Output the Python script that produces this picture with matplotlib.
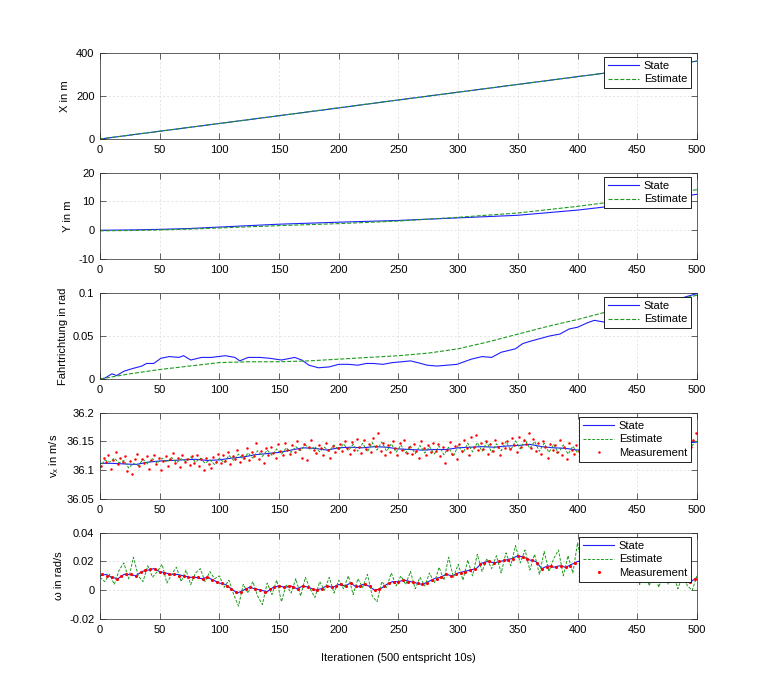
import numpy as np
import matplotlib
matplotlib.use("Agg")
from matplotlib import pyplot as plt
from matplotlib.ticker import FuncFormatter

plt.rcParams['font.family'] = ['Liberation Sans', 'DejaVu Sans']
plt.rcParams['font.size'] = 8
plt.rcParams['axes.unicode_minus'] = False

# --- X position (m) ---
x_iter = [0, 50, 100, 150, 200, 250, 300, 350, 400, 450, 500]
x_state = [0, 36, 72, 108, 144, 181, 217, 253, 289, 325, 361]
x_est = [0, 36, 72, 108, 145, 181, 217, 253, 289, 325, 361]

# --- Y position (m) ---
y_iter = [0, 25, 50, 75, 100, 150, 200, 250, 300, 350, 400, 450, 500]
y_state = [0, 0.1, 0.3, 0.6, 1.1, 2.1, 2.8, 3.4, 4.3, 5.2, 7.0, 9.4, 12.5]
y_est = [-0.2, -0.1, 0.1, 0.4, 0.8, 1.6, 2.3, 3.2, 4.5, 6.0, 8.3, 11.0, 14.1]

# --- heading (rad) ---
head_iter = [0, 4, 10, 14, 20, 27, 35, 39, 45, 51, 58, 66, 70, 76, 85, 93, 105, 113,
             117, 124, 134, 142, 152, 163, 169, 175, 183, 192, 200, 208, 216, 223,
             229, 237, 245, 253, 260, 266, 274, 282, 291, 299, 305, 311, 320, 328,
             336, 342, 348, 354, 361, 369, 377, 385, 393, 400, 408, 414, 422, 430,
             440, 450, 460, 470, 480, 490, 500]
head_state = [0, 0.001, 0.006, 0.004, 0.009, 0.012, 0.015, 0.018, 0.018, 0.024,
              0.026, 0.025, 0.027, 0.022, 0.025, 0.025, 0.027, 0.025, 0.021, 0.025,
              0.025, 0.024, 0.022, 0.025, 0.022, 0.016, 0.013, 0.014, 0.017, 0.017,
              0.016, 0.018, 0.018, 0.017, 0.019, 0.020, 0.021, 0.019, 0.016, 0.015,
              0.016, 0.017, 0.020, 0.023, 0.026, 0.025, 0.031, 0.033, 0.035, 0.041,
              0.044, 0.047, 0.050, 0.052, 0.058, 0.060, 0.065, 0.068, 0.066, 0.069,
              0.073, 0.077, 0.082, 0.086, 0.090, 0.095, 0.099]
head_est_iter = [0, 25, 50, 75, 100, 125, 150, 175, 200, 225, 250, 275, 300, 325,
                 350, 375, 400, 425, 450, 475, 500]
head_est = [0, 0.006, 0.011, 0.015, 0.019, 0.020, 0.020, 0.021, 0.023, 0.025,
            0.027, 0.030, 0.035, 0.043, 0.052, 0.061, 0.069, 0.078, 0.084, 0.090, 0.097]

# --- v_x (m/s), state every 10 iterations ---
vx_state = [36.112, 36.112, 36.111, 36.110, 36.114, 36.116, 36.117, 36.118, 36.119, 36.117,
            36.118, 36.121, 36.123, 36.127, 36.129, 36.131, 36.135, 36.139, 36.138, 36.135,
            36.139, 36.140, 36.139, 36.141, 36.140, 36.137, 36.136, 36.135, 36.136, 36.136,
            36.139, 36.140, 36.141, 36.140, 36.142, 36.143, 36.145, 36.141, 36.139, 36.138,
            36.135, 36.137, 36.139, 36.140, 36.142, 36.143, 36.144, 36.145, 36.146, 36.147,
            36.149]
# estimate every 4 iterations
vx_est = [36.104, 36.118, 36.114, 36.121, 36.113, 36.117, 36.104, 36.112, 36.108, 36.119,
          36.111, 36.120, 36.112, 36.121, 36.114, 36.122, 36.113, 36.120, 36.115, 36.123,
          36.114, 36.121, 36.112, 36.118, 36.110, 36.121, 36.113, 36.126, 36.117, 36.128,
          36.119, 36.130, 36.121, 36.134, 36.124, 36.135, 36.126, 36.137, 36.128, 36.139,
          36.131, 36.141, 36.134, 36.144, 36.136, 36.141, 36.132, 36.140, 36.133, 36.144,
          36.135, 36.146, 36.134, 36.145, 36.133, 36.147, 36.132, 36.148, 36.135, 36.149,
          36.133, 36.146, 36.131, 36.144, 36.130, 36.142, 36.129, 36.143, 36.130, 36.141,
          36.128, 36.142, 36.127, 36.140, 36.124, 36.143, 36.130, 36.147, 36.132, 36.148,
          36.133, 36.149, 36.131, 36.146, 36.134, 36.150, 36.135, 36.151, 36.137, 36.153,
          36.138, 36.150, 36.133, 36.147, 36.131, 36.145, 36.130, 36.144, 36.128, 36.142,
          36.130, 36.144, 36.131, 36.146, 36.133, 36.147, 36.134, 36.148, 36.135, 36.149,
          36.136, 36.150, 36.137, 36.151, 36.138, 36.152, 36.139, 36.151, 36.140, 36.152,
          36.141, 36.153, 36.142, 36.154, 36.143, 36.151]
# measurement every 2 iterations (1, 3, 5, ...)
vx_meas = [36.108, 36.121, 36.115, 36.126, 36.103, 36.118, 36.131, 36.110, 36.122, 36.114,
           36.125, 36.099, 36.116, 36.093, 36.120, 36.128, 36.107, 36.119, 36.112, 36.124,
           36.102, 36.118, 36.127, 36.110, 36.121, 36.100, 36.116, 36.125, 36.108, 36.119,
           36.130, 36.112, 36.122, 36.106, 36.127, 36.115, 36.120, 36.109, 36.124, 36.113,
           36.126, 36.108, 36.119, 36.101, 36.121, 36.111, 36.104, 36.123, 36.115, 36.128,
           36.112, 36.126, 36.116, 36.131, 36.110, 36.124, 36.119, 36.135, 36.114, 36.127,
           36.121, 36.138, 36.117, 36.131, 36.125, 36.147, 36.120, 36.134, 36.112, 36.139,
           36.126, 36.141, 36.130, 36.122, 36.145, 36.134, 36.127, 36.148, 36.136, 36.129,
           36.143, 36.132, 36.150, 36.137, 36.121, 36.146, 36.118, 36.140, 36.152, 36.135,
           36.130, 36.144, 36.138, 36.126, 36.148, 36.135, 36.122, 36.142, 36.131, 36.139,
           36.146, 36.133, 36.151, 36.138, 36.128, 36.149, 36.136, 36.155, 36.141, 36.130,
           36.152, 36.137, 36.145, 36.131, 36.156, 36.142, 36.165, 36.134, 36.148, 36.127,
           36.143, 36.132, 36.151, 36.139, 36.126, 36.147, 36.135, 36.153, 36.130, 36.141,
           36.129, 36.146, 36.134, 36.122, 36.150, 36.138, 36.127, 36.143, 36.131, 36.148,
           36.133, 36.145, 36.124, 36.140, 36.112, 36.136, 36.149, 36.128, 36.142, 36.119,
           36.146, 36.133, 36.152, 36.138, 36.127, 36.157, 36.141, 36.162, 36.135, 36.148,
           36.137, 36.150, 36.129, 36.145, 36.134, 36.153, 36.140, 36.126, 36.147, 36.138,
           36.151, 36.137, 36.156, 36.144, 36.132, 36.158, 36.141, 36.153, 36.146, 36.165,
           36.139, 36.155, 36.134, 36.148, 36.128, 36.151, 36.140, 36.121, 36.146, 36.136,
           36.144, 36.131, 36.152, 36.126, 36.141, 36.120, 36.147, 36.135, 36.129, 36.143,
           36.133, 36.146, 36.125, 36.140, 36.131, 36.149, 36.138, 36.127, 36.144, 36.135,
           36.148, 36.136, 36.152, 36.130, 36.145, 36.139, 36.155, 36.133, 36.147, 36.141,
           36.137, 36.150, 36.143, 36.156, 36.134, 36.148, 36.140, 36.153, 36.138, 36.146,
           36.151, 36.139, 36.157, 36.144, 36.136, 36.153, 36.142, 36.159, 36.147, 36.140,
           36.155, 36.142, 36.150, 36.138, 36.158, 36.145, 36.162, 36.140, 36.153, 36.164]

# --- omega (rad/s) ---
# state every 5 iterations
w_state = [0.010, 0.011, 0.009, 0.008, 0.011, 0.011, 0.010, 0.013, 0.014, 0.015,
           0.013, 0.012, 0.011, 0.011, 0.010, 0.009, 0.009, 0.008, 0.009, 0.007,
           0.005, 0.004, 0.001, -0.002, 0.000, 0.002, 0.001, 0.000, -0.001, 0.002,
           0.003, 0.002, 0.003, 0.001, 0.003, 0.002, 0.000, 0.001, 0.003, 0.002,
           0.004, 0.003, 0.005, 0.002, 0.004, 0.003, 0.000, 0.001, 0.004, 0.006,
           0.006, 0.007, 0.006, 0.005, 0.004, 0.006, 0.008, 0.009, 0.011, 0.010,
           0.012, 0.013, 0.014, 0.015, 0.019, 0.020, 0.019, 0.020, 0.021, 0.022,
           0.024, 0.023, 0.021, 0.020, 0.015, 0.017, 0.016, 0.017, 0.016, 0.018,
           0.020, 0.020, 0.019, 0.018, 0.017, 0.016, 0.015, 0.014, 0.013, 0.012,
           0.011, 0.010, 0.009, 0.009, 0.008, 0.008, 0.007, 0.008, 0.007, 0.006,
           0.009]
# estimate every 4 iterations
w_est = [0.009, 0.006, 0.011, 0.004, 0.014, 0.019, 0.008, 0.023, 0.010, 0.006,
         0.017, 0.009, 0.013, 0.018, 0.005, 0.011, 0.016, 0.006, 0.014, 0.004,
         0.012, 0.015, 0.006, 0.013, 0.008, 0.010, 0.002, 0.007, -0.003, -0.011,
         0.004, -0.002, 0.006, -0.004, -0.010, 0.005, -0.003, 0.007, -0.008, 0.004,
         -0.002, 0.008, -0.004, 0.009, 0.001, -0.005, 0.006, 0.000, 0.009, -0.002,
         0.007, 0.001, 0.010, -0.003, 0.008, 0.002, 0.011, -0.004, -0.008, 0.006,
         0.002, 0.012, 0.003, 0.010, 0.004, 0.013, 0.001, 0.009, 0.003, 0.012,
         0.005, 0.016, 0.007, 0.023, 0.009, 0.018, 0.007, 0.021, 0.010, 0.025,
         0.013, 0.022, 0.015, 0.024, 0.012, 0.026, 0.017, 0.031, 0.019, 0.028,
         0.014, 0.025, 0.011, 0.027, 0.013, 0.022, 0.028, 0.010, 0.024, 0.012,
         0.033, 0.015, 0.026, 0.012, 0.024, 0.010, 0.022, 0.009, 0.021, 0.008,
         0.019, 0.006, 0.018, 0.004, 0.016, 0.003, 0.014, 0.002, 0.013, 0.004,
         0.012, 0.001, 0.011, 0.003, 0.000, 0.010]
# measurement every 4 iterations (2, 6, 10, ...)
w_meas = [0.011, 0.010, 0.009, 0.008, 0.010, 0.011, 0.011, 0.010, 0.013, 0.014,
          0.015, 0.015, 0.013, 0.012, 0.011, 0.011, 0.010, 0.010, 0.009, 0.009,
          0.009, 0.008, 0.009, 0.007, 0.006, 0.005, 0.003, 0.001, -0.001, -0.001,
          0.001, 0.002, 0.001, 0.000, -0.001, 0.001, 0.002, 0.003, 0.002, 0.003,
          0.002, 0.001, 0.003, 0.002, 0.001, 0.000, 0.001, 0.003, 0.002, 0.003,
          0.004, 0.003, 0.005, 0.003, 0.003, 0.004, 0.003, 0.000, 0.001, 0.003,
          0.005, 0.006, 0.006, 0.007, 0.006, 0.006, 0.005, 0.004, 0.005, 0.007,
          0.008, 0.009, 0.011, 0.010, 0.011, 0.012, 0.013, 0.014, 0.015, 0.018,
          0.019, 0.020, 0.019, 0.020, 0.021, 0.021, 0.022, 0.024, 0.023, 0.022,
          0.021, 0.019, 0.015, 0.016, 0.017, 0.016, 0.017, 0.016, 0.017, 0.019,
          0.020, 0.020, 0.019, 0.018, 0.017, 0.017, 0.016, 0.015, 0.014, 0.013,
          0.013, 0.012, 0.011, 0.010, 0.009, 0.009, 0.008, 0.008, 0.008, 0.007,
          0.007, 0.008, 0.007, 0.006, 0.008]

BLUE = '#1f1fff'
GREEN = '#1e9b1e'
RED = '#ff0000'
W, H = 770, 696


def style_axis(ax, ylim, yticks):
    ax.set_xlim(0, 500)
    ax.set_ylim(*ylim)
    ax.set_xticks(range(0, 501, 50))
    ax.set_yticks(yticks)
    ax.yaxis.set_major_formatter(FuncFormatter(lambda v, p: '%g' % round(v, 6)))
    ax.grid(True, color='#dadada', linestyle=(0, (3, 3)), linewidth=0.5)
    ax.set_axisbelow(True)
    ax.tick_params(direction='in', length=4, width=0.5, top=True, right=True,
                   colors='#262626', labelcolor='black', labelsize=8, pad=4)
    for s in ax.spines.values():
        s.set_color('#262626')
        s.set_linewidth(0.5)


def add_legend(ax):
    leg = ax.legend(loc='upper right', bbox_to_anchor=(1 - 6 / 597, 1 - 4 / 86.3),
                    borderaxespad=0, fancybox=False, framealpha=1, edgecolor='black',
                    fontsize=8, handlelength=2.8, handletextpad=0.4, labelspacing=0.35,
                    borderpad=0.35)
    leg.get_frame().set_linewidth(0.6)


fig = plt.figure(figsize=(W / 100, H / 100), dpi=100)
bottoms = [139, 259, 379, 499, 619]
axes = [fig.add_axes([100 / W, 1 - b / H, 597 / W, 86.3 / H]) for b in bottoms]

ax = axes[0]
ax.plot(x_iter, x_state, color=BLUE, lw=0.8, label='State')
ax.plot(x_iter, x_est, color=GREEN, lw=0.8, ls='--', label='Estimate')
style_axis(ax, (0, 400), [0, 200, 400])
ax.set_ylabel('X in m')
add_legend(ax)

ax = axes[1]
ax.plot(y_iter, y_state, color=BLUE, lw=0.8, label='State')
ax.plot(y_iter, y_est, color=GREEN, lw=0.8, ls='--', label='Estimate')
style_axis(ax, (-10, 20), [-10, 0, 10, 20])
ax.set_ylabel('Y in m')
add_legend(ax)

ax = axes[2]
ax.plot(head_iter, head_state, color=BLUE, lw=0.8, label='State')
ax.plot(head_est_iter, head_est, color=GREEN, lw=0.8, ls='--', label='Estimate')
style_axis(ax, (0, 0.1), [0, 0.05, 0.1])
ax.set_ylabel('Fahrtrichtung in rad')
add_legend(ax)

ax = axes[3]
ax.plot(np.arange(len(vx_state)) * 10, vx_state, color=BLUE, lw=0.8, label='State')
ax.plot(np.arange(len(vx_est)) * 4, vx_est, color=GREEN, lw=0.7,
        ls=(0, (3, 1.5)), label='Estimate')
ax.plot(1 + np.arange(len(vx_meas)) * 2, vx_meas, ls='none', marker='.', ms=1.6,
        color=RED, label='Measurement')
style_axis(ax, (36.05, 36.2), [36.05, 36.1, 36.15, 36.2])
ax.set_ylabel(r'$\mathregular{v_x}$ in m/s')
add_legend(ax)

ax = axes[4]
ax.plot(np.arange(len(w_state)) * 5, w_state, color=BLUE, lw=0.8, label='State')
ax.plot(np.arange(len(w_est)) * 4, w_est, color=GREEN, lw=0.7,
        ls=(0, (3, 1.5)), label='Estimate')
ax.plot(2 + np.arange(len(w_meas)) * 4, w_meas, ls='none', marker='.', ms=2.5,
        color=RED, label='Measurement')
style_axis(ax, (-0.02, 0.04), [-0.02, 0, 0.02, 0.04])
ax.set_ylabel('ω in rad/s')
ax.set_xlabel('Iterationen (500 entspricht 10s)', labelpad=13)
add_legend(ax)

fig.savefig('out.png', dpi=100, facecolor='white')
